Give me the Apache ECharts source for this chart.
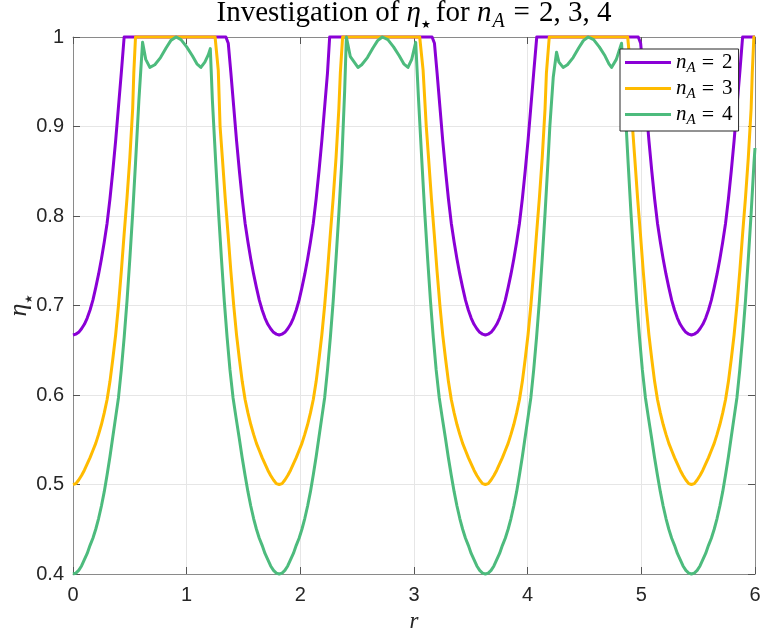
<!DOCTYPE html>
<html>
<head>
<meta charset="utf-8">
<script src="https://cdn.jsdelivr.net/npm/echarts@6/dist/echarts.min.js"></script>
<style>html,body{margin:0;padding:0;background:#fff}#c{width:763px;height:639px}</style>
</head>
<body>
<div id="c"></div>
<script>
// ---- data: [r, eta*] ----
const seriesKeys = ['nA2', 'nA3', 'nA4'];
const seriesLabels = ['2', '3', '4'];
const xTicks = [0, 1, 2, 3, 4, 5, 6];
const yTicks = [0.4, 0.5, 0.6, 0.7, 0.8, 0.9, 1];

const nA2 = [
  [0,0.667],[0.025,0.668],[0.05,0.670],[0.075,0.674],[0.1,0.679],[0.125,0.686],[0.15,0.695],[0.175,0.706],[0.2,0.72],[0.225,0.735],[0.25,0.752],[0.275,0.771],[0.3,0.792],[0.325,0.819],[0.35,0.85],[0.375,0.884],[0.4,0.922],[0.425,0.96],[0.45,1.0],
  [1.345,1.0],[1.366,0.993],[1.389,0.96],[1.414,0.922],[1.439,0.884],[1.464,0.85],[1.489,0.819],[1.514,0.792],[1.539,0.771],[1.564,0.752],[1.589,0.735],[1.614,0.72],[1.639,0.706],[1.664,0.695],[1.689,0.686],[1.714,0.679],[1.739,0.674],[1.764,0.670],[1.789,0.668],[1.814,0.667],
  [1.839,0.668],[1.864,0.670],[1.889,0.674],[1.914,0.679],[1.939,0.686],[1.964,0.695],[1.989,0.706],[2.014,0.72],[2.039,0.735],[2.064,0.752],[2.089,0.771],[2.114,0.792],[2.139,0.819],[2.164,0.85],[2.189,0.884],[2.214,0.922],[2.239,0.96],[2.258,1.0],
  [3.159,1.0],[3.18,0.993],[3.203,0.96],[3.228,0.922],[3.253,0.884],[3.278,0.85],[3.303,0.819],[3.328,0.792],[3.353,0.771],[3.378,0.752],[3.403,0.735],[3.428,0.72],[3.453,0.706],[3.478,0.695],[3.503,0.686],[3.528,0.679],[3.553,0.674],[3.578,0.670],[3.603,0.668],[3.628,0.667],
  [3.653,0.668],[3.678,0.670],[3.703,0.674],[3.728,0.679],[3.753,0.686],[3.778,0.695],[3.803,0.706],[3.828,0.72],[3.853,0.735],[3.878,0.752],[3.903,0.771],[3.928,0.792],[3.953,0.819],[3.978,0.85],[4.003,0.884],[4.028,0.922],[4.053,0.96],[4.08,1.0],
  [4.973,1.0],[4.994,0.993],[5.017,0.96],[5.042,0.922],[5.067,0.884],[5.092,0.85],[5.117,0.819],[5.142,0.792],[5.167,0.771],[5.192,0.752],[5.217,0.735],[5.242,0.72],[5.267,0.706],[5.292,0.695],[5.317,0.686],[5.342,0.679],[5.367,0.674],[5.392,0.670],[5.417,0.668],[5.441,0.667],
  [5.466,0.668],[5.491,0.670],[5.516,0.674],[5.541,0.679],[5.566,0.686],[5.591,0.695],[5.616,0.706],[5.641,0.72],[5.666,0.735],[5.691,0.752],[5.716,0.771],[5.741,0.792],[5.766,0.819],[5.791,0.85],[5.816,0.884],[5.841,0.922],[5.866,0.96],[5.891,1.0],[6.0,1.0]
];

const nA3 = [
  [0,0.5],[0.025,0.501],[0.05,0.505],[0.075,0.51],[0.1,0.516],[0.125,0.523],[0.15,0.53],[0.175,0.538],[0.2,0.546],[0.225,0.556],[0.25,0.567],[0.275,0.58],[0.3,0.595],[0.325,0.615],[0.35,0.64],[0.375,0.667],[0.4,0.70],[0.425,0.738],[0.45,0.78],[0.475,0.82],[0.5,0.865],[0.525,0.92],[0.535,0.96],[0.55,1.0],
  [1.25,1.0],[1.278,0.963],[1.294,0.9],[1.314,0.865],[1.339,0.82],[1.364,0.78],[1.389,0.738],[1.414,0.70],[1.439,0.667],[1.464,0.64],[1.489,0.615],[1.514,0.595],[1.539,0.58],[1.564,0.567],[1.589,0.556],[1.614,0.546],[1.639,0.538],[1.664,0.53],[1.689,0.523],[1.714,0.516],[1.739,0.51],[1.764,0.505],[1.789,0.501],[1.814,0.5],
  [1.839,0.501],[1.864,0.505],[1.889,0.51],[1.914,0.516],[1.939,0.523],[1.964,0.53],[1.989,0.538],[2.014,0.546],[2.039,0.556],[2.064,0.567],[2.089,0.58],[2.114,0.595],[2.139,0.615],[2.164,0.64],[2.189,0.667],[2.214,0.70],[2.239,0.738],[2.264,0.78],[2.289,0.82],[2.314,0.865],[2.339,0.92],[2.352,0.96],[2.372,1.0],
  [3.05,1.0],[3.08,0.963],[3.108,0.9],[3.128,0.865],[3.153,0.82],[3.178,0.78],[3.203,0.738],[3.228,0.70],[3.253,0.667],[3.278,0.64],[3.303,0.615],[3.328,0.595],[3.353,0.58],[3.378,0.567],[3.403,0.556],[3.428,0.546],[3.453,0.538],[3.478,0.53],[3.503,0.523],[3.528,0.516],[3.553,0.51],[3.578,0.505],[3.603,0.501],[3.628,0.5],
  [3.653,0.501],[3.678,0.505],[3.703,0.51],[3.728,0.516],[3.753,0.523],[3.778,0.53],[3.803,0.538],[3.828,0.546],[3.853,0.556],[3.878,0.567],[3.903,0.58],[3.928,0.595],[3.953,0.615],[3.978,0.64],[4.003,0.667],[4.028,0.70],[4.053,0.738],[4.078,0.78],[4.103,0.82],[4.128,0.865],[4.153,0.92],[4.165,0.96],[4.19,1.0],
  [4.88,1.0],[4.906,0.963],[4.922,0.9],[4.942,0.865],[4.967,0.82],[4.992,0.78],[5.017,0.738],[5.042,0.70],[5.067,0.667],[5.092,0.64],[5.117,0.615],[5.142,0.595],[5.167,0.58],[5.192,0.567],[5.217,0.556],[5.242,0.546],[5.267,0.538],[5.292,0.53],[5.317,0.523],[5.342,0.516],[5.367,0.51],[5.392,0.505],[5.417,0.501],[5.441,0.5],
  [5.466,0.501],[5.491,0.505],[5.516,0.51],[5.541,0.516],[5.566,0.523],[5.591,0.53],[5.616,0.538],[5.641,0.546],[5.666,0.556],[5.691,0.567],[5.716,0.58],[5.741,0.595],[5.766,0.615],[5.791,0.64],[5.816,0.667],[5.841,0.70],[5.866,0.738],[5.891,0.78],[5.916,0.82],[5.941,0.865],[5.966,0.92],[5.976,0.96],[5.99,1.0],[6.0,1.0]
];

const nA4 = [
  [0,0.4],[0.025,0.401],[0.05,0.404],[0.075,0.409],[0.1,0.416],[0.125,0.423],[0.15,0.432],[0.175,0.44],[0.2,0.45],[0.225,0.462],[0.25,0.476],[0.275,0.492],[0.3,0.511],[0.325,0.531],[0.35,0.553],[0.375,0.575],[0.4,0.597],[0.425,0.628],[0.45,0.664],[0.475,0.705],[0.5,0.752],[0.525,0.803],[0.55,0.859],[0.58,0.93],[0.612,0.994],
  [0.64,0.975],[0.676,0.966],[0.72,0.969],[0.77,0.977],[0.82,0.988],[0.86,0.996],[0.907,1.0],[0.95,0.997],[1.0,0.989],[1.05,0.979],[1.09,0.970],[1.125,0.966],[1.16,0.972],[1.19,0.98],[1.208,0.987],
  [1.226,0.93],[1.256,0.859],[1.281,0.803],[1.306,0.752],[1.331,0.705],[1.356,0.664],[1.381,0.628],[1.408,0.597],[1.434,0.575],[1.461,0.553],[1.487,0.531],[1.513,0.511],[1.539,0.492],[1.564,0.476],[1.589,0.462],[1.614,0.45],[1.639,0.44],[1.664,0.432],[1.689,0.423],[1.714,0.416],[1.739,0.409],[1.764,0.404],[1.789,0.401],[1.814,0.4],
  [1.839,0.401],[1.864,0.404],[1.889,0.409],[1.914,0.416],[1.939,0.423],[1.964,0.432],[1.989,0.44],[2.014,0.45],[2.039,0.462],[2.064,0.476],[2.089,0.492],[2.114,0.511],[2.139,0.531],[2.164,0.553],[2.189,0.575],[2.214,0.597],[2.239,0.628],[2.264,0.664],[2.289,0.705],[2.314,0.752],[2.339,0.803],[2.364,0.859],[2.39,0.94],[2.405,1.0],
  [2.44,0.978],[2.507,0.966],[2.54,0.969],[2.59,0.977],[2.64,0.988],[2.68,0.996],[2.721,1.0],[2.77,0.997],[2.82,0.989],[2.87,0.979],[2.91,0.97],[2.947,0.966],[2.98,0.975],[3.015,0.994],
  [3.04,0.93],[3.07,0.859],[3.095,0.803],[3.12,0.752],[3.145,0.705],[3.17,0.664],[3.195,0.628],[3.222,0.597],[3.248,0.575],[3.275,0.553],[3.301,0.531],[3.327,0.511],[3.353,0.492],[3.378,0.476],[3.403,0.462],[3.428,0.45],[3.453,0.44],[3.478,0.432],[3.503,0.423],[3.528,0.416],[3.553,0.409],[3.578,0.404],[3.603,0.401],[3.628,0.4],
  [3.653,0.401],[3.678,0.404],[3.703,0.409],[3.728,0.416],[3.753,0.423],[3.778,0.432],[3.803,0.44],[3.828,0.45],[3.853,0.462],[3.878,0.476],[3.903,0.492],[3.928,0.511],[3.953,0.531],[3.978,0.553],[4.003,0.575],[4.028,0.597],[4.053,0.628],[4.078,0.664],[4.103,0.705],[4.128,0.752],[4.153,0.803],[4.178,0.859],[4.195,0.9],[4.225,0.955],[4.254,0.983],
  [4.275,0.972],[4.312,0.966],[4.35,0.969],[4.40,0.977],[4.45,0.988],[4.49,0.996],[4.532,1.0],[4.58,0.997],[4.63,0.989],[4.68,0.979],[4.715,0.97],[4.738,0.966],[4.78,0.975],[4.826,0.993],
  [4.854,0.93],[4.884,0.859],[4.909,0.803],[4.934,0.752],[4.959,0.705],[4.984,0.664],[5.009,0.628],[5.036,0.597],[5.062,0.575],[5.089,0.553],[5.115,0.531],[5.141,0.511],[5.167,0.492],[5.192,0.476],[5.217,0.462],[5.242,0.45],[5.267,0.44],[5.292,0.432],[5.317,0.423],[5.342,0.416],[5.367,0.409],[5.392,0.404],[5.417,0.401],[5.441,0.4],
  [5.466,0.401],[5.491,0.404],[5.516,0.409],[5.541,0.416],[5.566,0.423],[5.591,0.432],[5.616,0.44],[5.641,0.45],[5.666,0.462],[5.691,0.476],[5.716,0.492],[5.741,0.511],[5.766,0.531],[5.791,0.553],[5.816,0.575],[5.841,0.597],[5.866,0.628],[5.891,0.664],[5.916,0.705],[5.941,0.752],[5.966,0.803],[5.991,0.859],[6.0,0.876]
];

const seriesData = [nA2, nA3, nA4];
const seriesColors = ['#8A00D6', '#FFBB00', '#4DBB7D'];

// ---- chart ----
const serif = '"Liberation Serif","DejaVu Serif",serif';
const sans = '"Liberation Sans","DejaVu Sans",sans-serif';
const starFont = '"DejaVu Sans",sans-serif';
const axisColor = '#8a8a8a';
const tickColor = '#555555';
const textColor = '#262626';

const chart = echarts.init(document.getElementById('c'), null, {renderer: 'canvas'});

function axisCommon(isX, main) {
  return {
    type: 'value',
    min: isX ? xTicks[0] : yTicks[0],
    max: isX ? xTicks[xTicks.length - 1] : yTicks[yTicks.length - 1],
    interval: isX ? 1 : 0.1,
    axisLine: {show: true, onZero: false, lineStyle: {color: axisColor, width: 1}},
    axisTick: {show: true, inside: true, length: 7, lineStyle: {color: tickColor, width: 1}},
    splitLine: {show: main, lineStyle: {color: '#e6e6e6', width: 1}},
    axisLabel: {show: main, fontFamily: sans, fontSize: 20, color: textColor, margin: isX ? 11 : 9}
  };
}

const xMain = Object.assign(axisCommon(true, true), {
  position: 'bottom',
  name: 'r', nameLocation: 'middle', nameGap: 37, nameMoveOverlap: false,
  nameTextStyle: {fontFamily: serif, fontStyle: 'italic', fontSize: 23, color: textColor, lineHeight: 22}
});
const xTop = Object.assign(axisCommon(true, false), {position: 'top'});
const yMain = Object.assign(axisCommon(false, true), {
  position: 'left',
  name: '{e|η}{s|★}', nameLocation: 'middle', nameRotate: 90, nameGap: 41, nameMoveOverlap: false,
  nameTextStyle: {
    color: textColor,
    rich: {
      e: {fontFamily: serif, fontStyle: 'italic', fontSize: 26, lineHeight: 26, verticalAlign: 'top', color: textColor},
      s: {fontFamily: starFont, fontSize: 10, lineHeight: 10, padding: [18, 0, 0, 0], verticalAlign: 'top', color: textColor}
    }
  }
});
const yRight = Object.assign(axisCommon(false, false), {position: 'right'});

const option = {
  animation: false,
  backgroundColor: '#ffffff',
  title: {
    text: '{r|Investigation of }{i|η}{s|★}{r|for }{i|n}{a|A}{q|=}{r|2, 3, 4}',
    left: 414, top: -1, padding: 0, textAlign: 'center',
    textStyle: {
      fontWeight: 'normal',
      rich: {
        r: {fontFamily: serif, fontWeight: 'normal', fontSize: 29, lineHeight: 30, verticalAlign: 'top', color: '#000'},
        i: {fontFamily: serif, fontWeight: 'normal', fontStyle: 'italic', fontSize: 29, lineHeight: 30, verticalAlign: 'top', color: '#000'},
        s: {fontFamily: starFont, fontWeight: 'normal', fontSize: 11, lineHeight: 11, padding: [21, 5, 0, 0], verticalAlign: 'top', color: '#000'},
        a: {fontFamily: serif, fontWeight: 'normal', fontStyle: 'italic', fontSize: 20, lineHeight: 20, padding: [13, 0, 0, 1], verticalAlign: 'top', color: '#000'},
        q: {fontFamily: serif, fontWeight: 'normal', fontSize: 29, lineHeight: 30, padding: [0, 9, 0, 9], verticalAlign: 'top', color: '#000'}
      }
    }
  },
  grid: {left: 73, top: 37, width: 682, height: 537, containLabel: false, outerBoundsMode: 'none'},
  xAxis: [xMain, xTop],
  yAxis: [yMain, yRight],
  legend: {
    orient: 'vertical',
    left: 620, top: 49,
    padding: [3, 6, 3, 5],
    itemGap: 2,
    itemWidth: 46, itemHeight: 3,
    itemTextGap: 6,
    icon: 'rect',
    backgroundColor: '#ffffff',
    borderColor: '#262626', borderWidth: 1,
    data: seriesKeys,
    formatter: function (name) {
      return '{i|n}{a|A}{q|=}{r|' + seriesLabels[seriesKeys.indexOf(name)] + '}';
    },
    textStyle: {
      rich: {
        i: {fontFamily: serif, fontStyle: 'italic', fontSize: 21, lineHeight: 21, verticalAlign: 'top', color: '#000'},
        a: {fontFamily: serif, fontStyle: 'italic', fontSize: 15, lineHeight: 15, padding: [9, 0, 0, 0], verticalAlign: 'top', color: '#000'},
        q: {fontFamily: serif, fontSize: 22, lineHeight: 21, padding: [0, 8, 0, 6], verticalAlign: 'top', color: '#000'},
        r: {fontFamily: serif, fontSize: 21, lineHeight: 21, verticalAlign: 'top', color: '#000'}
      }
    }
  },
  series: seriesKeys.map(function (k, i) {
    return {
      name: k,
      type: 'line',
      xAxisIndex: 0, yAxisIndex: 0,
      data: seriesData[i],
      showSymbol: false,
      symbol: 'none',
      clip: false,
      smooth: false,
      color: seriesColors[i],
      itemStyle: {color: seriesColors[i]},
      lineStyle: {color: seriesColors[i], width: 3, join: 'round'}
    };
  })
};

chart.setOption(option);
</script>
</body>
</html>
